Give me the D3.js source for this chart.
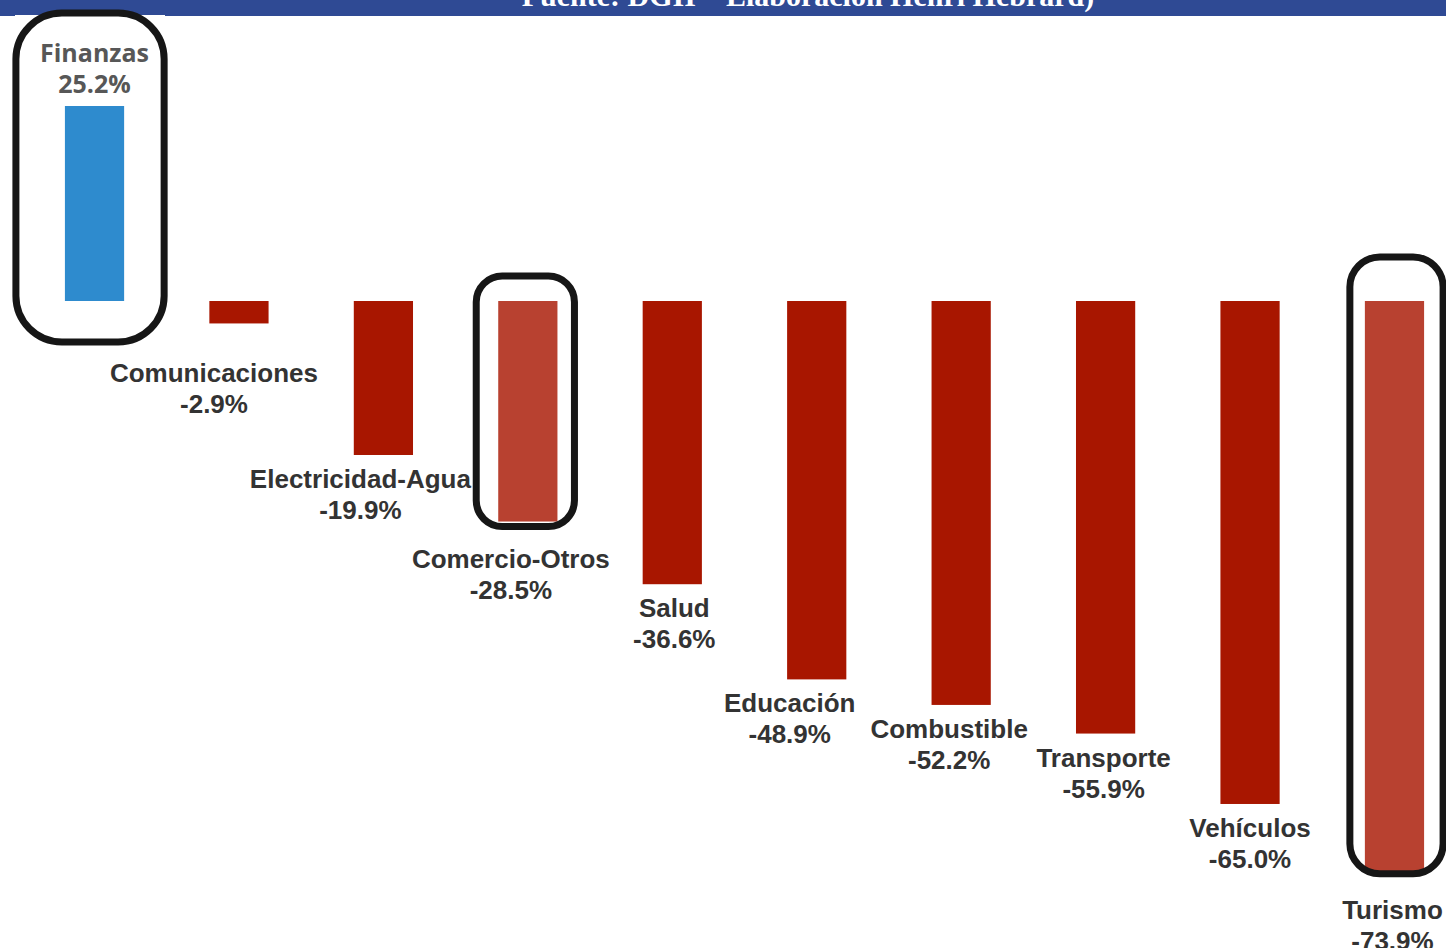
<!DOCTYPE html>
<head>
  <meta charset="utf-8">
  <style>
  body { margin: 0; background: #fff; }
  text.lbl {
    font-family: 'Liberation Sans', Arial, sans-serif;
    font-weight: 700;
    font-size: 26px;
    fill: #333;
  }
  text.lbl-pos {
    font-family: 'Open Sans', sans-serif;
    font-weight: 700;
    font-size: 25px;
    fill: #575757;
  }
  </style>
</head>
<body>
  <svg id="chart"></svg>
  <script src="https://cdnjs.cloudflare.com/ajax/libs/d3/7.8.5/d3.min.js"></script>
  <script>

  // data
  var sectors = ['Finanzas', 'Comunicaciones', 'Electricidad-Agua', 'Comercio-Otros', 'Salud',
                 'Educación', 'Combustible', 'Transporte', 'Vehículos', 'Turismo'];
  var changes = [25.2, -2.9, -19.9, -28.5, -36.6, -48.9, -52.2, -55.9, -65.0, -73.9];
  var highlighted = ['Finanzas', 'Comercio-Otros', 'Turismo'];
  var sourceNote = 'Fuente: DGII – Elaboración Henri Hebrard)';

  var width = 1446,
      height = 948;

  var svg = d3.select('#chart')
    .attr('width', width)
    .attr('height', height);

  // header band (mostly cropped)
  svg.append('rect')
    .attr('x', 0).attr('y', 0)
    .attr('width', width).attr('height', 16)
    .attr('fill', '#2f4a94');
  svg.append('text')
    .attr('x', 808)
    .attr('y', 6)
    .attr('text-anchor', 'middle')
    .style('font-family', "'Liberation Serif', serif")
    .style('font-weight', 700)
    .style('font-size', '30px')
    .attr('fill', '#fff')
    .text(sourceNote);
  svg.append('rect')
    .attr('x', 15).attr('y', 15)
    .attr('width', 150).attr('height', 3)
    .attr('fill', '#fff');

  var x = d3.scaleBand()
    .domain(sectors)
    .range([22.3, 1466.7])
    .paddingInner(0.59)
    .paddingOuter(0.295);

  var y = d3.scaleLinear()
    .domain([0, 25.2])
    .range([301, 106]);

  var barColor = function(d, i) {
    if (changes[i] > 0) return '#2e8bce';
    return highlighted.indexOf(d) >= 0 ? '#b84130' : '#a81600';
  };

  svg.append('g').selectAll('rect')
    .data(sectors)
    .enter().append('rect')
      .attr('x', function(d) { return x(d); })
      .attr('width', x.bandwidth())
      .attr('y', function(d, i) { return Math.min(y(0), y(changes[i])); })
      .attr('height', function(d, i) { return Math.abs(y(changes[i]) - y(0)); })
      .attr('fill', barColor);

  // label nudges so the text does not collide
  var labelDx = [0, -25, -23, -17, 2, -27, -12, -2, 0, -2];
  var fmt = function(v) { return v.toFixed(1) + '%'; };

  var labels = svg.append('g').selectAll('text')
    .data(sectors)
    .enter().append('text')
      .attr('class', function(d, i) { return changes[i] > 0 ? 'lbl-pos' : 'lbl'; })
      .attr('text-anchor', 'middle')
      .attr('transform', function(d, i) {
        var cx = x(d) + x.bandwidth() / 2 + labelDx[i];
        var base;
        if (changes[i] > 0) {
          base = y(changes[i]) - 44;
        } else {
          base = Math.max(y(changes[i]), y(-6.2)) + 33 + (highlighted.indexOf(d) >= 0 ? 13 : 0);
        }
        return 'translate(' + cx + ',' + base + ')';
      });
  labels.append('tspan')
    .attr('x', 0).attr('y', 0)
    .text(function(d) { return d; });
  labels.append('tspan')
    .attr('x', 0).attr('y', 31)
    .text(function(d, i) { return fmt(changes[i]); });

  // rounded highlight boxes
  var boxes = [
    { name: 'Finanzas', left: 49, right: 40, top: y(25.2) - 93, bottom: y(0) + 41, r: 46 },
    { name: 'Comercio-Otros', left: 22, right: 17, top: y(0) - 25, bottom: y(-28.5) + 5, r: 26 },
    { name: 'Turismo', left: 15, right: 19, top: y(0) - 44, bottom: y(-73.9) + 1, r: 30 }
  ];
  svg.append('g').selectAll('rect')
    .data(boxes)
    .enter().append('rect')
      .attr('x', function(d) { return x(d.name) - d.left; })
      .attr('y', function(d) { return d.top; })
      .attr('width', function(d) { return x.bandwidth() + d.left + d.right; })
      .attr('height', function(d) { return d.bottom - d.top; })
      .attr('rx', function(d) { return d.r; })
      .attr('fill', 'none')
      .attr('stroke', '#161616')
      .attr('stroke-width', 7);

  </script>
</body>
